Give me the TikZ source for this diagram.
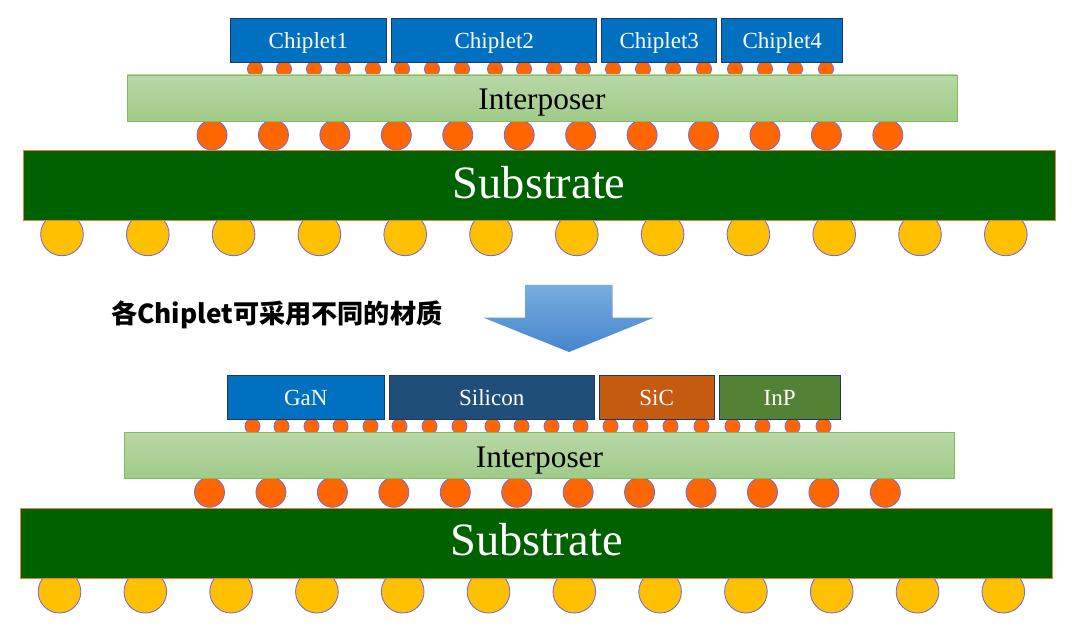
\documentclass[tikz,border=0pt]{standalone}
\usepackage{fontspec}
\setmainfont{Liberation Serif}
\newfontfamily\cjkfont{Noto Sans CJK SC}
\usepackage{tikz}
\usetikzlibrary{positioning}
\definecolor{chipblue}{RGB}{0,112,192}
\definecolor{chipnavy}{RGB}{31,78,121}
\definecolor{chiprust}{RGB}{197,90,17}
\definecolor{chipgreen}{RGB}{84,130,53}
\definecolor{chipframe}{RGB}{32,56,100}
\definecolor{iptop}{RGB}{184,215,166}
\definecolor{ipbot}{RGB}{160,203,136}
\definecolor{ipframe}{RGB}{128,188,98}
\definecolor{subgreen}{RGB}{0,97,0}
\definecolor{subframe}{RGB}{237,125,49}
\definecolor{bumporange}{RGB}{255,102,0}
\definecolor{ballyellow}{RGB}{255,192,0}
\definecolor{bumpedge}{RGB}{112,104,230}
\definecolor{arrtop}{RGB}{122,172,224}
\definecolor{arrbot}{RGB}{68,134,204}
\tikzset{
  chip/.style={rectangle, draw=chipframe, fill=chipblue, text=white,
    minimum height=1.1cm, inner sep=0pt, outer sep=0pt,
    text height=11.2pt, text depth=0pt,
    line width=0.6pt, font=\fontsize{16.4}{18}\selectfont},
  interposer/.style={rectangle, draw=ipframe, top color=iptop, bottom color=ipbot,
    minimum width=20.75cm, minimum height=1.15cm, inner sep=0pt,
    text height=17pt, text depth=0pt,
    line width=0.6pt, font=\fontsize{22.3}{24}\selectfont},
  substrate/.style={rectangle, draw=subframe, fill=subgreen, text=white,
    minimum width=25.79cm, minimum height=1.75cm, inner sep=0pt,
    text height=18pt, text depth=0pt,
    line width=0.6pt, font=\fontsize{33}{36}\selectfont},
  ubump/.style={draw=bumpedge, fill=bumporange, line width=0.5pt},
  cbump/.style={draw=bumpedge, fill=bumporange, line width=0.6pt},
  ball/.style={draw=bumpedge, fill=ballyellow, line width=0.6pt},
  note/.style={font=\cjkfont\bfseries\fontsize{18.6}{20}\selectfont}
}

\begin{document}
\begin{tikzpicture}
  \useasboundingbox (0,0) rectangle (27,-15.775);

  % Two stacks: interposer, substrate and all bumps
  \foreach \s/\dx/\dy in {a/0/0, b/-0.0625/-8.9325} {
    \begin{scope}[shift={(\dx,\dy)}]
      % Solder balls
      \foreach \i in {0,...,11} \draw[ball] (1.55+2.145*\i,-5.86) circle (0.533);
      % C4 bumps
      \foreach \i in {0,...,11} \draw[cbump] (5.3+1.536*\i,-3.375) circle (0.375);
      % Micro bumps
      \foreach \x in {6.375,7.1,7.85,8.575,9.325,10.05,10.8,11.55,12.375,13.1,
                      13.85,14.575,15.325,16.075,16.825,17.6,18.375,19.125,19.875,20.65}
        \draw[ubump] (\x,-1.725) circle (0.19);
      \node[interposer] (ip\s) at (13.55,-2.45) {Interposer};
      \node[substrate] (sub\s) at (13.479,-4.6425) {Substrate};
    \end{scope}
  }

  % Chiplets, top stack
  \node[chip, minimum width=3.9175cm] (c1) at (7.709,-1.0075) {Chiplet1};
  \node[chip, minimum width=5.125cm, right=1.25mm of c1] (c2) {Chiplet2};
  \node[chip, minimum width=2.875cm, right=1.25mm of c2] (c3) {Chiplet3};
  \node[chip, minimum width=3.025cm, right=1.25mm of c3] (c4) {Chiplet4};

  % Chiplets, bottom stack
  \node[chip, minimum width=3.925cm] (gan) at (7.645,-9.946) {GaN};
  \node[chip, fill=chipnavy, minimum width=5.12cm, right=1.25mm of gan] (si) {Silicon};
  \node[chip, fill=chiprust, minimum width=2.88cm, right=1.25mm of si] (sic) {SiC};
  \node[chip, fill=chipgreen, minimum width=3.02cm, right=1.25mm of sic] (inp) {InP};

  % Down arrow and note
  \shade[top color=arrtop, bottom color=arrbot]
    (13.125,-7.125) -- (15.3175,-7.125) -- (15.3175,-7.94) -- (16.35,-7.94)
    -- (14.225,-8.8) -- (12.08,-7.94) -- (13.125,-7.94) -- cycle;
  \node[note] (note) at (6.9175,-7.87) {各Chiplet可采用不同的材质};
\end{tikzpicture}
\end{document}
